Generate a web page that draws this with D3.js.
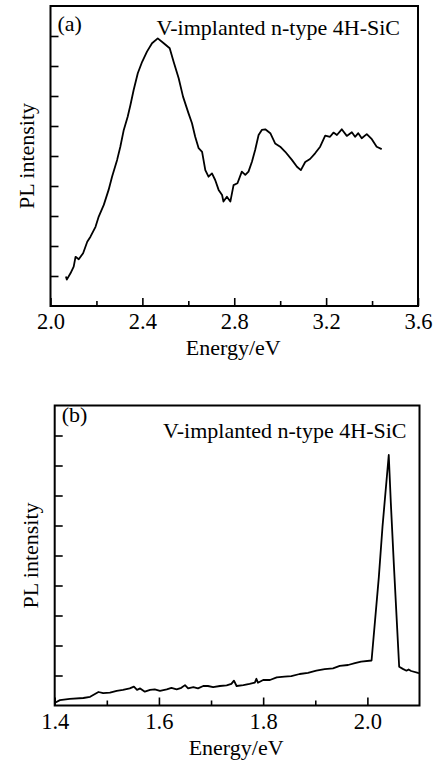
<!DOCTYPE html>
<html>
<head>
<meta charset="utf-8">
<script src="https://cdn.jsdelivr.net/npm/d3@7"></script>
<style>
  body { margin: 0; background: #fff; }
  text { font-family: "Liberation Serif", "Times New Roman", serif; fill: #000; }
</style>
</head>
<body>
<svg width="434" height="761"></svg>
<script>
// panel (a): energy (eV) and PL intensity (arb. units, tick units)
const energyA = [2.067, 2.071, 2.087, 2.101, 2.109, 2.123, 2.142, 2.160, 2.174, 2.196, 2.210, 2.232, 2.253, 2.268,
  2.290, 2.304, 2.319, 2.336, 2.348, 2.362, 2.380, 2.399, 2.420, 2.442, 2.467, 2.493, 2.519, 2.536, 2.558, 2.577,
  2.601, 2.616, 2.630, 2.645, 2.660, 2.674, 2.688, 2.703, 2.717, 2.732, 2.747, 2.753, 2.768, 2.783, 2.797, 2.814,
  2.833, 2.848, 2.862, 2.877, 2.891, 2.906, 2.920, 2.935, 2.957, 2.978, 3.000, 3.022, 3.051, 3.073, 3.090, 3.109,
  3.130, 3.152, 3.174, 3.196, 3.217, 3.232, 3.247, 3.268, 3.290, 3.312, 3.326, 3.340, 3.355, 3.377, 3.399, 3.420, 3.442];
const intensityA = [0.98, 0.88, 1.09, 1.31, 1.64, 1.56, 1.76, 2.14, 2.31, 2.64, 2.98, 3.37, 3.87, 4.31,
  4.87, 5.31, 5.87, 6.31, 6.70, 7.20, 7.76, 8.14, 8.48, 8.76, 8.92, 8.76, 8.59, 8.14, 7.59, 6.98,
  6.42, 6.09, 5.64, 5.26, 5.14, 4.53, 4.31, 4.42, 4.20, 3.87, 3.70, 3.48, 3.64, 3.48, 4.03, 4.09,
  4.48, 4.37, 4.48, 4.81, 5.20, 5.70, 5.87, 5.89, 5.76, 5.42, 5.31, 5.14, 4.87, 4.64, 4.53, 4.80,
  4.90, 5.09, 5.31, 5.68, 5.64, 5.78, 5.70, 5.89, 5.67, 5.79, 5.64, 5.76, 5.59, 5.73, 5.56, 5.31, 5.23];

// panel (b)
const energyB = [1.4006, 1.410, 1.429, 1.455, 1.468, 1.484, 1.493, 1.506, 1.519, 1.531, 1.544, 1.552, 1.558, 1.564,
  1.573, 1.583, 1.592, 1.602, 1.615, 1.624, 1.634, 1.643, 1.650, 1.656, 1.666, 1.675, 1.685, 1.694, 1.704, 1.717,
  1.730, 1.739, 1.744, 1.749, 1.762, 1.774, 1.784, 1.787, 1.790, 1.800, 1.813, 1.826, 1.841, 1.854, 1.870, 1.886,
  1.902, 1.918, 1.934, 1.947, 1.963, 1.976, 1.988, 2.008, 2.022, 2.029, 2.041, 2.045, 2.051, 2.061, 2.068, 2.075,
  2.079, 2.084, 2.097, 2.100];
const intensityB = [0.09, 0.18, 0.22, 0.25, 0.29, 0.45, 0.41, 0.43, 0.49, 0.52, 0.57, 0.63, 0.52, 0.57,
  0.46, 0.52, 0.54, 0.49, 0.54, 0.59, 0.54, 0.59, 0.68, 0.57, 0.61, 0.57, 0.65, 0.65, 0.61, 0.65,
  0.67, 0.72, 0.83, 0.65, 0.68, 0.72, 0.76, 0.89, 0.76, 0.85, 0.85, 0.94, 0.96, 0.98, 1.05, 1.09,
  1.16, 1.21, 1.24, 1.32, 1.35, 1.41, 1.46, 1.50, 4.29, 5.96, 8.35, 6.75, 4.63, 1.29, 1.22, 1.16,
  1.20, 1.15, 1.09, 1.08];

const majorA = [2.0, 2.4, 2.8, 3.2, 3.6];
const minorA = [2.2, 2.6, 3.0, 3.4];
const majorB = [1.4, 1.6, 1.8, 2.0];
const minorB = [1.5, 1.7, 1.9];
const yTicks = [1, 2, 3, 4, 5, 6, 7, 8, 9];

const svg = d3.select("svg");
svg.append("rect").attr("width", 434).attr("height", 761).attr("fill", "#fff");

function panel(opt) {
  const x = d3.scaleLinear().domain(opt.xDomain).range([opt.left, opt.right]);
  const y = d3.scaleLinear().domain([0, 10]).range([opt.bottom, opt.top]);
  const g = svg.append("g");

  // minor x ticks
  g.append("g")
    .attr("transform", `translate(0,${opt.bottom})`)
    .call(d3.axisBottom(x).tickValues(opt.minor).tickSize(-5).tickFormat(""))
    .call(a => a.select(".domain").remove());

  // major x ticks with labels
  const xa = g.append("g")
    .attr("transform", `translate(0,${opt.bottom})`)
    .call(d3.axisBottom(x).tickValues(opt.major).tickSize(-8).tickFormat(d3.format(".1f")));
  xa.select(".domain").remove();
  xa.selectAll("text").attr("y", 23).attr("dy", 0)
    .style("font-size", "22.5px").style("font-family", "Liberation Serif");

  // y ticks, no labels
  g.append("g")
    .attr("transform", `translate(${opt.left},0)`)
    .call(d3.axisLeft(y).tickValues(yTicks).tickSize(-8).tickFormat(""))
    .call(a => a.select(".domain").remove());

  g.selectAll(".tick line").attr("stroke", "#000").attr("stroke-width", 1.6);

  // frame
  g.append("rect")
    .attr("x", opt.left).attr("y", opt.top)
    .attr("width", opt.right - opt.left).attr("height", opt.bottom - opt.top)
    .attr("fill", "none").attr("stroke", "#000").attr("stroke-width", 2);

  // curve
  const line = d3.line().x(d => x(d[0])).y(d => y(d[1]));
  g.append("path")
    .datum(d3.zip(opt.energy, opt.intensity))
    .attr("d", line)
    .attr("fill", "none").attr("stroke", "#000").attr("stroke-width", 1.8)
    .attr("stroke-linejoin", "round");

  // texts
  g.append("text").attr("x", opt.left + 7).attr("y", opt.top + opt.tagDy)
    .style("font-size", "22px").text(opt.tag);
  g.append("text").attr("x", opt.right - opt.titleDx).attr("y", opt.top + opt.titleDy)
    .attr("text-anchor", "end").style("font-size", "22px")
    .text("V-implanted n-type 4H-SiC");
  g.append("text")
    .attr("transform", `translate(${opt.left - opt.ylabDx},${(opt.top + opt.bottom) / 2}) rotate(-90)`)
    .attr("text-anchor", "middle").style("font-size", "22px")
    .text("PL intensity");
  g.append("text").attr("x", (opt.left + opt.right) / 2 - 1).attr("y", opt.bottom + 49)
    .attr("text-anchor", "middle").style("font-size", "22px")
    .text("Energy/eV");
}

panel({
  xDomain: [2.0, 3.6], left: 50.5, right: 418, top: 6, bottom: 306,
  major: majorA, minor: minorA, energy: energyA, intensity: intensityA,
  tag: "(a)", tagDy: 25, titleDx: 18, titleDy: 29, ylabDx: 17
});

panel({
  xDomain: [1.4, 2.1], left: 54.7, right: 419.5, top: 405.5, bottom: 705.5,
  major: majorB, minor: minorB, energy: energyB, intensity: intensityB,
  tag: "(b)", tagDy: 16, titleDx: 13, titleDy: 32, ylabDx: 17
});
</script>
</body>
</html>
